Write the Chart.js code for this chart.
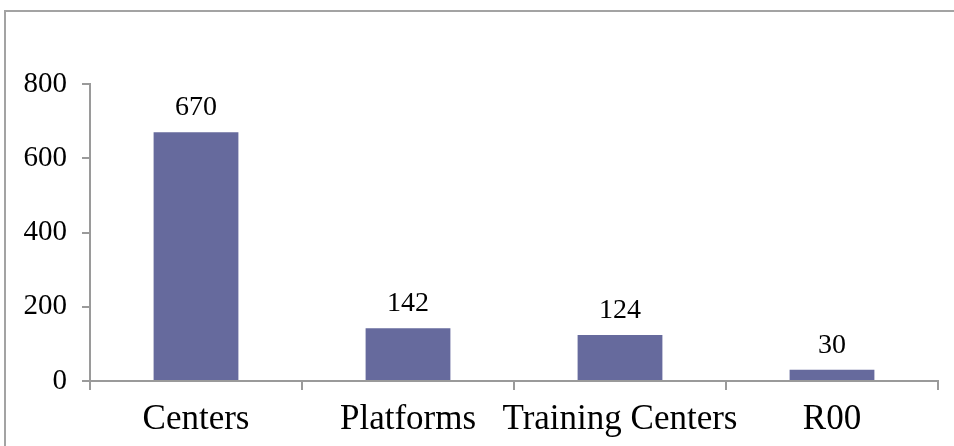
<!DOCTYPE html>
<html>
<head>
<meta charset="utf-8">
<script src="https://cdn.jsdelivr.net/npm/chart.js@4/dist/chart.umd.min.js"></script>
<style>
html,body{margin:0;padding:0;background:#fff;overflow:hidden;}
canvas{display:block;}
</style>
</head>
<body>
<canvas id="chart" width="954" height="446"></canvas>
<script>
// chart values
const categories=["Centers","Platforms","Training Centers","R00"];
const values=[670,142,124,30];
const yTicks=[0,200,400,600,800];

const serif="'Liberation Serif','Times New Roman',serif";

// outer frame (left and top edges only visible)
const frame={
  id:"frame",
  beforeDraw(chart){
    const c=chart.ctx;
    c.save();
    c.strokeStyle="#a3a3a3";
    c.lineWidth=2;
    c.beginPath();
    c.moveTo(5,chart.height);
    c.lineTo(5,11);
    c.lineTo(chart.width,11);
    c.stroke();
    c.restore();
  }
};

// draw the numbers above the bars
const valueLabels={
  id:"valueLabels",
  afterDatasetsDraw(chart){
    const ctx=chart.ctx;
    const meta=chart.getDatasetMeta(0);
    ctx.save();
    ctx.font="28px "+serif;
    ctx.fillStyle="#000";
    ctx.textAlign="center";
    ctx.textBaseline="alphabetic";
    meta.data.forEach((bar,i)=>{
      ctx.fillText(String(values[i]),bar.x,bar.y-17);
    });
    ctx.restore();
  }
};

const ctx=document.getElementById("chart").getContext("2d");
new Chart(ctx,{
  type:"bar",
  data:{
    labels:categories,
    datasets:[{
      data:values,
      backgroundColor:"#666a9d",
      borderWidth:0,
      categoryPercentage:1,
      barPercentage:0.4
    }]
  },
  options:{
    responsive:false,
    animation:false,
    layout:{padding:{top:84,right:16,left:0,bottom:0}},
    plugins:{legend:{display:false},tooltip:{enabled:false}},
    scales:{
      x:{
        grid:{display:true,drawOnChartArea:false,drawTicks:true,tickLength:9,color:"#9a9a9a",lineWidth:2,offset:true},
        border:{color:"#9a9a9a",width:2},
        ticks:{color:"#000",font:{family:serif,size:35},padding:9,maxRotation:0,autoSkip:false},
        afterFit(s){s.height=65;}
      },
      y:{
        min:0,max:800,
        afterBuildTicks(s){s.ticks=yTicks.map(v=>({value:v}));},
        grid:{display:true,drawOnChartArea:false,drawTicks:true,tickLength:8,color:"#9a9a9a",lineWidth:2},
        border:{color:"#9a9a9a",width:2},
        ticks:{color:"#000",font:{family:serif,size:29},padding:15},
        afterFit(s){s.width=90;}
      }
    }
  },
  plugins:[frame,valueLabels]
});
</script>
</body>
</html>
